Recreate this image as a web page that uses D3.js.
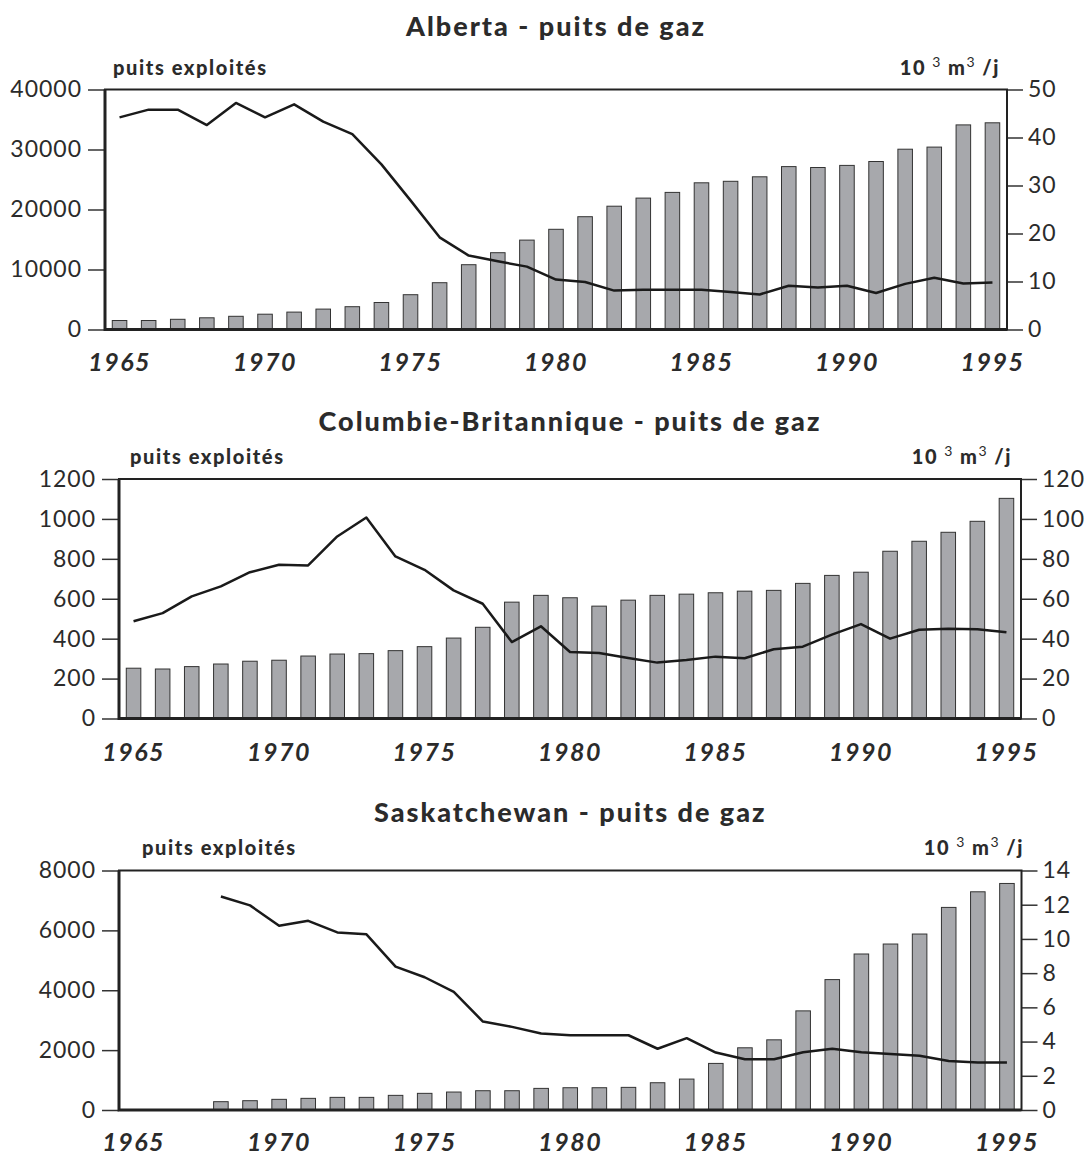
<!DOCTYPE html>
<html>
<head>
<meta charset="utf-8">
<script src="https://cdn.jsdelivr.net/npm/d3@7"></script>
<style>
  body { margin: 0; background: #fff; }
  svg { display: block; }
  text { fill: #2b2b2b; }
</style>
</head>
<body>
<div id="chart"></div>
<script>
// categories
var years = d3.range(1965, 1996)
var yearLabels = [1965, 1970, 1975, 1980, 1985, 1990, 1995]

// Alberta
var albertaWells = [1500, 1500, 1700, 1950, 2200, 2550, 2900, 3400, 3800, 4500, 5800, 7800, 10800, 12800, 14900,
    16700, 18800, 20550, 21900, 22850, 24450, 24700, 25450, 27150, 27000, 27350, 28000, 30050, 30400, 34100, 34450]
var albertaProd = [44.2, 45.8, 45.8, 42.6, 47.2, 44.2, 46.9, 43.3, 40.7, 34.4, 26.9, 19.2, 15.4, 14.2, 13.1,
    10.4, 9.9, 8.1, 8.3, 8.3, 8.3, 7.8, 7.3, 9.1, 8.75, 9.1, 7.6, 9.5, 10.8, 9.6, 9.8]

// Colombie-Britannique
var bcWells = [252, 248, 260, 273, 287, 292, 313, 323, 325, 340, 360, 403, 457, 583, 617,
    605, 563, 593, 617, 623, 630, 638, 642, 677, 717, 733, 838, 888, 933, 988, 1103]
var bcProd = [48.7, 52.8, 61.2, 66.2, 73.3, 77, 76.7, 91.2, 100.7, 81.2, 74.5, 64.2, 57.5, 38.3, 46.2,
    33.3, 32.8, 30.3, 28, 29.3, 31, 30.2, 34.7, 36, 42, 47.3, 40, 44.5, 45, 44.7, 43.2]

// Saskatchewan (pas de données avant 1968)
var skWells = [null, null, null, 278, 311, 356, 389, 422, 422, 489, 556, 600, 644, 644, 722,
    744, 744, 756, 911, 1033, 1556, 2078, 2344, 3311, 4356, 5211, 5544, 5878, 6767, 7289, 7567]
var skProd = [null, null, null, 12.48, 11.96, 10.77, 11.06, 10.38, 10.27, 8.38, 7.76, 6.9, 5.17, 4.86, 4.47,
    4.37, 4.37, 4.37, 3.58, 4.2, 3.36, 2.97, 2.97, 3.38, 3.58, 3.38, 3.27, 3.17, 2.86, 2.78, 2.78]

// tick values
var albertaLeftTicks = [0, 10000, 20000, 30000, 40000]
var albertaRightTicks = [0, 10, 20, 30, 40, 50]
var bcLeftTicks = [0, 200, 400, 600, 800, 1000, 1200]
var bcRightTicks = [0, 20, 40, 60, 80, 100, 120]
var skLeftTicks = [0, 2000, 4000, 6000, 8000]
var skRightTicks = [0, 2, 4, 6, 8, 10, 12, 14]

var panels = [
    { title: "Alberta - puits de gaz", wells: albertaWells, prod: albertaProd,
      leftTicks: albertaLeftTicks, rightTicks: albertaRightTicks,
      left: 105, right: 1007, top: 89.5, bottom: 329.5,
      titleY: 36, unitY: 75, wellLabelX: 113, unitLabelX: 1000, yearY: 371 },
    { title: "Columbie-Britannique - puits de gaz", wells: bcWells, prod: bcProd,
      leftTicks: bcLeftTicks, rightTicks: bcRightTicks,
      left: 119, right: 1021, top: 479, bottom: 718.5,
      titleY: 431, unitY: 464, wellLabelX: 130, unitLabelX: 1012, yearY: 761 },
    { title: "Saskatchewan - puits de gaz", wells: skWells, prod: skProd,
      leftTicks: skLeftTicks, rightTicks: skRightTicks,
      left: 119, right: 1021.5, top: 870.5, bottom: 1110,
      titleY: 822, unitY: 855, wellLabelX: 142, unitLabelX: 1024, yearY: 1151 }
]

var font = "Lato, 'Open Sans', sans-serif"

var svg = d3.select("#chart")
    .append("svg")
    .attr("width", 1089)
    .attr("height", 1156)

svg.append("rect").attr("width", 1089).attr("height", 1156).attr("fill", "#fff")

panels.forEach(function(p) {
    var g = svg.append("g")

    var x = d3.scaleBand()
        .domain(years)
        .range([p.left, p.right])
        .paddingInner(0.5)
        .paddingOuter(0.25)

    var yLeft = d3.scaleLinear()
        .domain([0, d3.max(p.leftTicks)])
        .range([p.bottom, p.top])

    var yRight = d3.scaleLinear()
        .domain([0, d3.max(p.rightTicks)])
        .range([p.bottom, p.top])

    // title
    g.append("text")
        .attr("x", (p.left + p.right) / 2)
        .attr("y", p.titleY)
        .attr("text-anchor", "middle")
        .style("font-family", font)
        .style("font-weight", "900")
        .style("font-size", "27px")
        .style("letter-spacing", "2px")
        .text(p.title)

    // axis titles
    g.append("text")
        .attr("x", p.wellLabelX)
        .attr("y", p.unitY)
        .style("font-family", font)
        .style("font-weight", "900")
        .style("font-size", "20px")
        .style("letter-spacing", "1.6px")
        .text("puits exploités")

    var unit = g.append("text")
        .attr("x", p.unitLabelX)
        .attr("y", p.unitY)
        .attr("text-anchor", "end")
        .style("font-family", font)
        .style("font-weight", "900")
        .style("font-size", "20px")
        .style("letter-spacing", "1.5px")
    unit.append("tspan").text("10 ")
    unit.append("tspan").attr("dy", -8).style("font-size", "14px").style("font-weight", "400").text("3")
    unit.append("tspan").attr("dy", 8).text("  m")
    unit.append("tspan").attr("dy", -8).style("font-size", "14px").style("font-weight", "400").text("3")
    unit.append("tspan").attr("dy", 8).text(" /j")

    // bars
    g.selectAll(".bar")
        .data(years.map(function(yr, i) { return { year: yr, v: p.wells[i] } }).filter(function(d) { return d.v != null }))
        .enter().append("rect")
        .attr("class", "bar")
        .attr("x", function(d) { return x(d.year) })
        .attr("width", x.bandwidth())
        .attr("y", function(d) { return yLeft(d.v) })
        .attr("height", function(d) { return p.bottom - yLeft(d.v) })
        .attr("fill", "#a7a8ac")
        .attr("stroke", "#333")
        .attr("stroke-width", 1)

    // line
    var line = d3.line()
        .defined(function(d) { return d.v != null })
        .x(function(d) { return x(d.year) + x.bandwidth() / 2 })
        .y(function(d) { return yRight(d.v) })

    g.append("path")
        .datum(years.map(function(yr, i) { return { year: yr, v: p.prod[i] } }))
        .attr("d", line)
        .attr("fill", "none")
        .attr("stroke", "#1a1a1a")
        .attr("stroke-width", 2.5)
        .attr("stroke-linejoin", "round")

    // left axis
    var axL = g.append("g")
        .attr("transform", "translate(" + p.left + ",0)")
        .call(d3.axisLeft(yLeft).tickValues(p.leftTicks).tickSize(17).tickPadding(6).tickFormat(d3.format("d")))
    axL.select(".domain").remove()

    var axR = g.append("g")
        .attr("transform", "translate(" + p.right + ",0)")
        .call(d3.axisRight(yRight).tickValues(p.rightTicks).tickSize(16).tickPadding(5).tickFormat(d3.format("d")))
    axR.select(".domain").remove()

    g.selectAll(".tick line").attr("stroke", "#333").attr("stroke-width", 1.5)
    g.selectAll(".tick text")
        .style("font-family", font)
        .style("font-weight", "400")
        .style("font-size", "23px")
        .style("letter-spacing", "1px")
        .attr("fill", "#2b2b2b")

    // frame
    g.append("rect")
        .attr("x", p.left)
        .attr("y", p.top)
        .attr("width", p.right - p.left)
        .attr("height", p.bottom - p.top)
        .attr("fill", "none")
        .attr("stroke", "#222")
        .attr("stroke-width", 2)
    g.append("path")
        .attr("d", "M" + p.left + "," + p.top + "V" + p.bottom + "H" + p.right)
        .attr("fill", "none")
        .attr("stroke", "#222")
        .attr("stroke-width", 3)

    // year labels
    g.selectAll(".year")
        .data(yearLabels)
        .enter().append("text")
        .attr("class", "year")
        .attr("x", function(d) { return x(d) + x.bandwidth() / 2 })
        .attr("y", p.yearY)
        .attr("text-anchor", "middle")
        .style("font-family", font)
        .style("font-weight", "700")
        .style("font-style", "italic")
        .style("font-size", "25px")
        .style("letter-spacing", "1.5px")
        .text(function(d) { return d })
})
</script>
</body>
</html>
